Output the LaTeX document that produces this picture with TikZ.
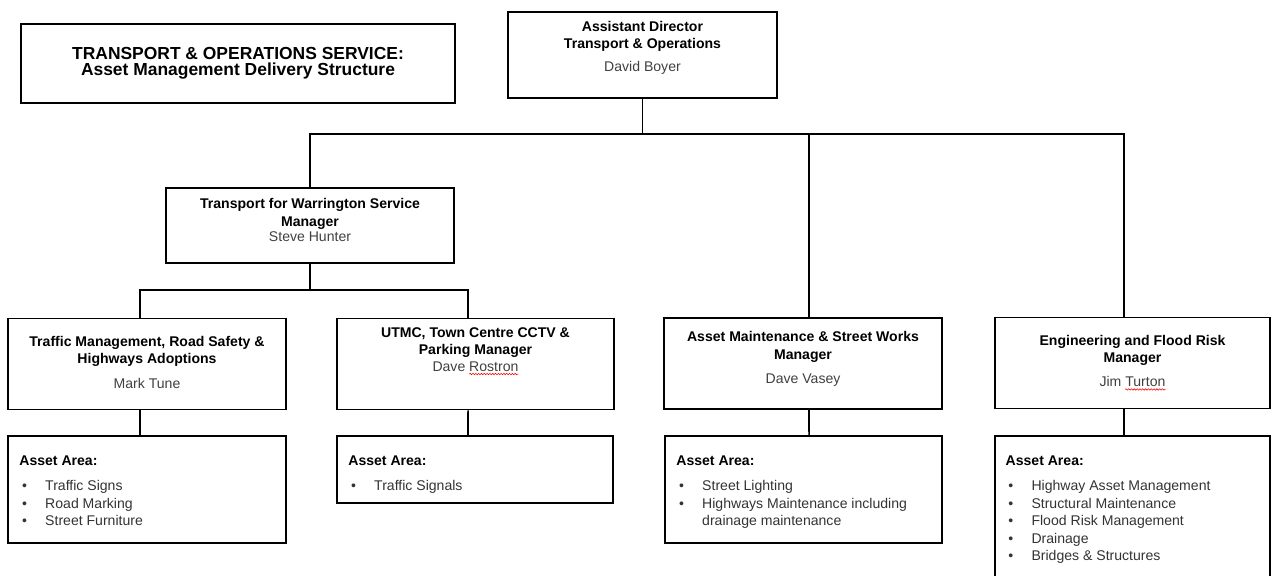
\documentclass[tikz,border=0pt]{standalone}
\usepackage{fontspec}
\setmainfont{Liberation Sans}
\usetikzlibrary{positioning, decorations.pathmorphing}

\newcommand\person[1]{{\mdseries\color{black!75}#1}}
\newcommand\blt{\hspace*{2pt}\makebox[16.4pt][l]{\textbullet}}
\newcommand\cont{\hspace*{18.4pt}}

\tikzset{
  box/.style={draw, line width=1.2pt, inner sep=0pt},
  tier/.style={box, minimum width=6.95cm, minimum height=2.28cm},
  head/.style={font=\fontsize{10}{12}\selectfont\bfseries, align=center, inner sep=0pt},
  areatxt/.style={font=\fontsize{10}{12.4}\selectfont, align=left, inner sep=0pt, text=black!80},
  link/.style={line width=1.2pt},
  spell/.style={red, line width=0.4pt, decorate, decoration={snake, amplitude=0.5pt, segment length=2pt}},
}

\begin{document}
\begin{tikzpicture}[x=0.025cm, y=-0.025cm]
  \useasboundingbox (0,0) rectangle (1272,576);

  % title
  \node[box, minimum width=10.85cm, minimum height=1.975cm, align=center,
        font=\fontsize{12.4}{11.4}\selectfont\bfseries] (title) at (238,63.5)
        {TRANSPORT \& OPERATIONS SERVICE:\\Asset Management Delivery Structure};

  % director
  \node[box, minimum width=6.725cm, minimum height=2.15cm] (dir) at (642.5,55) {};
  \node[head, below=7.1pt of dir.north] (dirtxt)
        {Assistant Director\\Transport \& Operations\\[4.3pt]\person{David Boyer}};

  % service manager
  \node[box, minimum width=7.2cm, minimum height=1.875cm] (tfw) at (310,225.5) {};
  \node[head, below=7.8pt of tfw.north] (tfwtxt)
        {Transport for Warrington Service\\[0.8pt]Manager\\[-1.4pt]\person{Steve Hunter}};

  % managers
  \node[tier] (tm) at (147,364) {};
  \node[head, below=13.5pt of tm.north] (tmtxt)
        {Traffic Management, Road Safety \&\\Highways Adoptions\\[5.7pt]\person{Mark Tune}};
  \node[tier, minimum width=6.925cm] (utmc) at (475.5,364) {};
  \node[head, below=7.1pt of utmc.north] (utmctxt)
        {UTMC, Town Centre CCTV \&\\Parking Manager\\\person{Dave Rostron}};
  \node[tier] (am) at (803,363.5) {};
  \node[head, below=9.9pt of am.north] (amtxt)
        {Asset Maintenance \& Street Works\\[0.8pt]Manager\\[5pt]\person{Dave Vasey}};
  \node[tier, minimum width=6.875cm] (eng) at (1132.5,363) {};
  \node[head, below=13.5pt of eng.north] (engtxt)
        {Engineering and Flood Risk\\Manager\\[5pt]\person{Jim Turton}};
  % spelling marks
  \draw[spell] ([xshift=-4.4pt, yshift=-1.6pt]utmctxt.south) -- ([xshift=30.5pt, yshift=-1.6pt]utmctxt.south);
  \draw[spell] ([xshift=-5.3pt, yshift=-1.6pt]engtxt.south) -- ([xshift=23.6pt, yshift=-1.6pt]engtxt.south);

  % asset areas
  \node[box, minimum width=6.95cm, minimum height=2.675cm] (a1) at (147,489.5) {};
  \node[areatxt, below right=14.2pt and 8.5pt of a1.north west] (a1txt)
        {\textcolor{black}{\textbf{Asset Area:}}\\[6pt]
         \blt Traffic Signs\\\blt Road Marking\\\blt Street Furniture};
  \node[box, minimum width=6.9cm, minimum height=1.675cm] (a2) at (475,469.5) {};
  \node[areatxt, below right=14.2pt and 8.5pt of a2.north west] (a2txt)
        {\textcolor{black}{\textbf{Asset Area:}}\\[6pt]
         \blt Traffic Signals};
  \node[box, minimum width=6.925cm, minimum height=2.675cm] (a3) at (803.5,489.5) {};
  \node[areatxt, below right=14.2pt and 8.5pt of a3.north west] (a3txt)
        {\textcolor{black}{\textbf{Asset Area:}}\\[6pt]
         \blt Street Lighting\\\blt Highways Maintenance including\\\cont drainage maintenance};
  \node[box, minimum width=6.875cm, minimum height=4.6cm] (a4) at (1132.5,528) {};
  \node[areatxt, below right=14.2pt and 8pt of a4.north west] (a4txt)
        {\textcolor{black}{\textbf{Asset Area:}}\\[6pt]
         \blt Highway Asset Management\\\blt Structural Maintenance\\\blt Flood Risk Management\\
         \blt Drainage\\\blt Bridges \& Structures};

  % connectors
  \draw[link] (dir.south) -- ++(0,35) coordinate (bus);
  \draw[link] (bus) -| (tfw.north);
  \draw[link] (bus) -| ([xshift=1.5mm]am.north);
  \draw[link] (bus) -| ([xshift=-2.1mm]eng.north);
  \draw[link] (tfw.south) -- ++(0,26) coordinate (sub);
  \draw[link] (sub) -| ([xshift=-1.75mm]tm.north);
  \draw[link] (sub) -| ([xshift=-1.85mm]utmc.north);
  \draw[link] ([xshift=-1.75mm]tm.south) -- ([xshift=-1.75mm]a1.north);
  \draw[link] ([xshift=-1.85mm]utmc.south) -- ([xshift=-1.75mm]a2.north);
  \draw[link] ([xshift=1.5mm]am.south) -- ([xshift=1.4mm]a3.north);
  \draw[link] ([xshift=-2.1mm]eng.south) -- ([xshift=-2.1mm]a4.north);
\end{tikzpicture}
\end{document}
